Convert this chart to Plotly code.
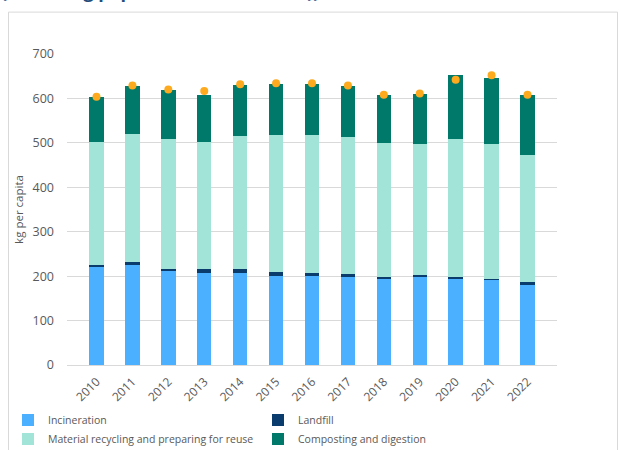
import plotly.graph_objects as go

years = ["2010", "2011", "2012", "2013", "2014", "2015", "2016",
         "2017", "2018", "2019", "2020", "2021", "2022"]
incineration = [221, 227, 213, 207, 207, 201, 201, 199, 194, 198, 193, 192, 181]
landfill = [4, 4, 3, 8, 9, 9, 6, 5, 5, 5, 5, 1, 5]
recycling = [278, 290, 293, 288, 300, 308, 311, 309, 301, 294, 311, 304, 287]
composting = [100, 106, 110, 105, 115, 115, 115, 114, 108, 113, 143, 149, 135]
total_dots = [604, 629, 620, 617, 632, 634, 634, 629, 608, 611, 642, 652, 608]

y_ticks = [0, 100, 200, 300, 400, 500, 600, 700]

FONT = "Open Sans"
GREY = "#595959"

fig = go.Figure()
fig.add_trace(go.Bar(x=years, y=incineration, name="Incineration",
                     marker=dict(color="#4AB0FF", line=dict(width=0))))
fig.add_trace(go.Bar(x=years, y=landfill, name="Landfill",
                     marker=dict(color="#0A3D6E", line=dict(width=0))))
fig.add_trace(go.Bar(x=years, y=recycling, name="Material recycling and preparing for reuse",
                     marker=dict(color="#A3E4D9", line=dict(width=0))))
fig.add_trace(go.Bar(x=years, y=composting, name="Composting and digestion",
                     marker=dict(color="#00796B", line=dict(width=0))))
fig.add_trace(go.Scatter(x=years, y=total_dots, mode="markers", showlegend=False,
                         marker=dict(color="#FDAA1F", size=8)))

# pixel helpers for the plot area
L, R, T, B = 67, 557, 54.3, 364.6
def px_x(p):
    return (p - L) / (R - L)
def px_y(p):
    return (B - p) / (B - T)

fig.update_layout(
    width=619, height=450,
    margin=dict(l=L, r=619 - R, t=T, b=450 - B, autoexpand=False),
    paper_bgcolor="white", plot_bgcolor="white",
    barmode="stack", bargap=0.6,
    font=dict(family=FONT, color=GREY, size=12),
    showlegend=True,
    legend=dict(orientation="h", x=px_x(8), xanchor="left",
                y=px_y(405), yanchor="top",
                entrywidth=205, entrywidthmode="pixels",
                font=dict(family=FONT, size=10.5, color=GREY),
                traceorder="normal", bgcolor="rgba(0,0,0,0)",
                tracegroupgap=0),
    xaxis=dict(type="category", tickangle=-45, showgrid=False, ticks="",
               showline=True, linecolor="#D9D9D9", linewidth=1,
               automargin=False,
               tickfont=dict(family=FONT, size=12, color=GREY),
               ticklabelstandoff=4),
    yaxis=dict(range=[0, 700], tickvals=y_ticks, showgrid=True,
               gridcolor="#D9D9D9", gridwidth=1, zeroline=False,
               ticks="", showline=False, automargin=False,
               tickfont=dict(family=FONT, size=12.5, color=GREY),
               ticklabelstandoff=12,
               title=dict(text="kg per capita", standoff=6,
                          font=dict(family=FONT, size=11.5, color=GREY))),
    shapes=[dict(type="rect", xref="paper", yref="paper",
                 x0=px_x(8.5), x1=px_x(617.5), y0=px_y(470), y1=px_y(12.5),
                 line=dict(color="#D9D9D9", width=1), fillcolor="rgba(0,0,0,0)",
                 layer="below")],
    annotations=[dict(text="<b>(excluding paper from households)),</b>",
                      xref="paper", yref="paper", x=px_x(-1), y=px_y(-9),
                      xanchor="left", yanchor="middle", showarrow=False,
                      font=dict(family=FONT, size=18, color="#1F4E79"))],
)

fig.write_html("out.html")
